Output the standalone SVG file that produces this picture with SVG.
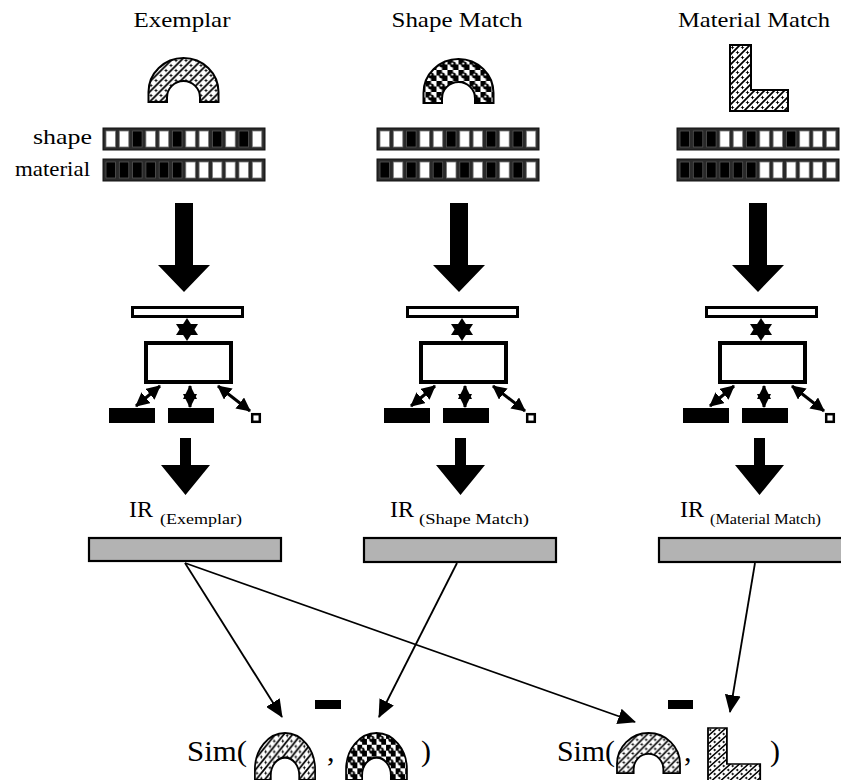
<svg xmlns="http://www.w3.org/2000/svg" xmlns:xlink="http://www.w3.org/1999/xlink" width="841" height="780" viewBox="0 0 841 780">
<style>
.t{font-family:"Liberation Serif","Times New Roman",serif;fill:#000}
.ttl{font-size:22px}
.lbl{font-size:21px}
.ir{font-size:24px}
.sub{font-size:14px}
.sim{font-size:30px}
.obj{stroke:#000;stroke-width:2}
.bar{fill:#2a2a2a;stroke:#111;stroke-width:1}
.w{fill:#fff;stroke:#777;stroke-width:0.8}
.b{fill:#000;stroke:#555;stroke-width:0.8}
.irbar{fill:#b3b3b3;stroke:#000;stroke-width:2.2}
.dbl{stroke:#000;stroke-width:3;marker-start:url(#dh);marker-end:url(#dh)}
.con{stroke:#000;stroke-width:1.8;fill:none;marker-end:url(#tri)}
.blk{fill:#000}
</style>
<defs>
<pattern id="wicker" patternUnits="userSpaceOnUse" width="10" height="10">
<rect width="10" height="10" fill="#fff"/>
<path d="M0,10 L10,0 M-2,2 L2,-2 M8,12 L12,8" stroke="#000" stroke-width="1.8"/>
<path d="M2.5,0.5 L3.2,2 L4.5,2.5 L3.2,3 L2.5,4.5 L1.8,3 L0.5,2.5 L1.8,2 Z" fill="#000"/>
<path d="M7.5,5.5 L8.2,7 L9.5,7.5 L8.2,8 L7.5,9.5 L6.8,8 L5.5,7.5 L6.8,7 Z" fill="#000"/>
</pattern>
<pattern id="checker" patternUnits="userSpaceOnUse" width="11" height="11">
<rect width="11" height="11" fill="#fff"/>
<rect width="5.5" height="5.5" fill="#000"/>
<rect x="5.5" y="5.5" width="5.5" height="5.5" fill="#000"/>
<circle cx="5.5" cy="5.5" r="3" fill="#000"/>
<circle cx="4.8" cy="4.6" r="1.1" fill="#fff"/>
</pattern>
<path id="arch" d="M-35,44 L-35,34 A35,34 0 0 1 35,34 L35,44 L16.5,44 L16.5,39.5 A16.5,16.5 0 0 0 -16.5,39.5 L-16.5,44 Z"/>
<path id="ell" d="M0,0 H21 V45 H58 V66 H0 Z"/>
<marker id="dh" markerUnits="userSpaceOnUse" viewBox="0 0 14 14" markerWidth="14" markerHeight="14" refX="13" refY="7" orient="auto-start-reverse"><path d="M0,0 L14,7 L0,14 Z"/></marker>
<marker id="tri" markerUnits="userSpaceOnUse" viewBox="0 0 18 16" markerWidth="18" markerHeight="16" refX="17" refY="8" orient="auto"><path d="M0,0 L18,8 L0,16 Z"/></marker>
<g id="netIcon">
<rect x="132.5" y="307.5" width="110" height="9" fill="#fff" stroke="#000" stroke-width="3"/>
<polygon points="187,318 198,335 176,335" class="blk"/>
<polygon points="187,341 198,324 176,324" class="blk"/>
<rect x="146" y="343" width="85" height="39" fill="#fff" stroke="#000" stroke-width="4"/>
<rect x="109" y="408" width="46" height="15" class="blk"/>
<rect x="168" y="408" width="46" height="15" class="blk"/>
<rect x="252.2" y="414.2" width="7.6" height="7.6" fill="#fff" stroke="#000" stroke-width="2.5"/>
<line x1="160" y1="386" x2="136" y2="406" class="dbl"/>
<line x1="190" y1="386" x2="190" y2="407" class="dbl"/>
<line x1="218" y1="386" x2="250" y2="411" class="dbl"/>
</g>
</defs>

<!-- Titles -->
<g id="title-exemplar"><text class="t ttl" x="182" y="27" text-anchor="middle" textLength="97" lengthAdjust="spacingAndGlyphs">Exemplar</text></g>
<g id="title-shape-match"><text class="t ttl" x="457" y="27" text-anchor="middle" textLength="131" lengthAdjust="spacingAndGlyphs">Shape Match</text></g>
<g id="title-material-match"><text class="t ttl" x="754" y="27" text-anchor="middle" textLength="152" lengthAdjust="spacingAndGlyphs">Material Match</text></g>

<!-- Objects -->
<g id="obj-exemplar"><use xlink:href="#arch" href="#arch" transform="translate(183.5,58)" fill="url(#wicker)" class="obj"/></g>
<g id="obj-shape-match"><use xlink:href="#arch" href="#arch" transform="translate(458.5,59)" fill="url(#checker)" class="obj"/></g>
<g id="obj-material-match"><use xlink:href="#ell" href="#ell" transform="translate(730,45)" fill="url(#wicker)" class="obj"/></g>

<!-- Row labels -->
<g id="row-labels">
<text class="t lbl" x="92" y="144" text-anchor="end" textLength="59" lengthAdjust="spacingAndGlyphs">shape</text>
<text class="t lbl" x="90" y="176" text-anchor="end" textLength="75" lengthAdjust="spacingAndGlyphs">material</text>
</g>

<!-- Vectors -->
<g id="vec-exemplar">
<g transform="translate(103,128)"><rect class="bar" width="162" height="22"/>
<rect class="w" x="3" y="3" width="9.5" height="16"/><rect class="w" x="16.3" y="3" width="9.5" height="16"/><rect class="b" x="29.6" y="3" width="9.5" height="16"/><rect class="w" x="42.9" y="3" width="9.5" height="16"/><rect class="w" x="56.2" y="3" width="9.5" height="16"/><rect class="b" x="69.5" y="3" width="9.5" height="16"/><rect class="w" x="82.8" y="3" width="9.5" height="16"/><rect class="w" x="96.1" y="3" width="9.5" height="16"/><rect class="b" x="109.4" y="3" width="9.5" height="16"/><rect class="w" x="122.7" y="3" width="9.5" height="16"/><rect class="b" x="136" y="3" width="9.5" height="16"/><rect class="w" x="149.3" y="3" width="9.5" height="16"/></g>
<g transform="translate(103,159)"><rect class="bar" width="162" height="22"/>
<rect class="b" x="3" y="3" width="9.5" height="16"/><rect class="b" x="16.3" y="3" width="9.5" height="16"/><rect class="b" x="29.6" y="3" width="9.5" height="16"/><rect class="b" x="42.9" y="3" width="9.5" height="16"/><rect class="b" x="56.2" y="3" width="9.5" height="16"/><rect class="b" x="69.5" y="3" width="9.5" height="16"/><rect class="w" x="82.8" y="3" width="9.5" height="16"/><rect class="w" x="96.1" y="3" width="9.5" height="16"/><rect class="w" x="109.4" y="3" width="9.5" height="16"/><rect class="w" x="122.7" y="3" width="9.5" height="16"/><rect class="w" x="136" y="3" width="9.5" height="16"/><rect class="w" x="149.3" y="3" width="9.5" height="16"/></g>
</g>
<g id="vec-shape-match">
<g transform="translate(377,128)"><rect class="bar" width="162" height="22"/>
<rect class="w" x="3" y="3" width="9.5" height="16"/><rect class="w" x="16.3" y="3" width="9.5" height="16"/><rect class="b" x="29.6" y="3" width="9.5" height="16"/><rect class="w" x="42.9" y="3" width="9.5" height="16"/><rect class="w" x="56.2" y="3" width="9.5" height="16"/><rect class="b" x="69.5" y="3" width="9.5" height="16"/><rect class="w" x="82.8" y="3" width="9.5" height="16"/><rect class="w" x="96.1" y="3" width="9.5" height="16"/><rect class="b" x="109.4" y="3" width="9.5" height="16"/><rect class="w" x="122.7" y="3" width="9.5" height="16"/><rect class="b" x="136" y="3" width="9.5" height="16"/><rect class="w" x="149.3" y="3" width="9.5" height="16"/></g>
<g transform="translate(377,159)"><rect class="bar" width="162" height="22"/>
<rect class="b" x="3" y="3" width="9.5" height="16"/><rect class="w" x="16.3" y="3" width="9.5" height="16"/><rect class="b" x="29.6" y="3" width="9.5" height="16"/><rect class="w" x="42.9" y="3" width="9.5" height="16"/><rect class="b" x="56.2" y="3" width="9.5" height="16"/><rect class="w" x="69.5" y="3" width="9.5" height="16"/><rect class="b" x="82.8" y="3" width="9.5" height="16"/><rect class="w" x="96.1" y="3" width="9.5" height="16"/><rect class="b" x="109.4" y="3" width="9.5" height="16"/><rect class="w" x="122.7" y="3" width="9.5" height="16"/><rect class="b" x="136" y="3" width="9.5" height="16"/><rect class="w" x="149.3" y="3" width="9.5" height="16"/></g>
</g>
<g id="vec-material-match">
<g transform="translate(677,128)"><rect class="bar" width="162" height="22"/>
<rect class="b" x="3" y="3" width="9.5" height="16"/><rect class="b" x="16.3" y="3" width="9.5" height="16"/><rect class="b" x="29.6" y="3" width="9.5" height="16"/><rect class="w" x="42.9" y="3" width="9.5" height="16"/><rect class="w" x="56.2" y="3" width="9.5" height="16"/><rect class="b" x="69.5" y="3" width="9.5" height="16"/><rect class="w" x="82.8" y="3" width="9.5" height="16"/><rect class="w" x="96.1" y="3" width="9.5" height="16"/><rect class="b" x="109.4" y="3" width="9.5" height="16"/><rect class="w" x="122.7" y="3" width="9.5" height="16"/><rect class="w" x="136" y="3" width="9.5" height="16"/><rect class="w" x="149.3" y="3" width="9.5" height="16"/></g>
<g transform="translate(677,159)"><rect class="bar" width="162" height="22"/>
<rect class="b" x="3" y="3" width="9.5" height="16"/><rect class="b" x="16.3" y="3" width="9.5" height="16"/><rect class="b" x="29.6" y="3" width="9.5" height="16"/><rect class="b" x="42.9" y="3" width="9.5" height="16"/><rect class="b" x="56.2" y="3" width="9.5" height="16"/><rect class="b" x="69.5" y="3" width="9.5" height="16"/><rect class="w" x="82.8" y="3" width="9.5" height="16"/><rect class="w" x="96.1" y="3" width="9.5" height="16"/><rect class="w" x="109.4" y="3" width="9.5" height="16"/><rect class="w" x="122.7" y="3" width="9.5" height="16"/><rect class="w" x="136" y="3" width="9.5" height="16"/><rect class="w" x="149.3" y="3" width="9.5" height="16"/></g>
</g>

<!-- Networks -->
<g id="net-exemplar"><use xlink:href="#netIcon" href="#netIcon"/></g>
<g id="net-shape-match"><use xlink:href="#netIcon" href="#netIcon" transform="translate(275,0)"/></g>
<g id="net-material-match"><use xlink:href="#netIcon" href="#netIcon" transform="translate(574,0)"/></g>

<!-- IR labels and bars -->
<g id="ir-exemplar">
<text class="t ir" x="129" y="517">IR</text>
<text class="t sub" x="160" y="524" textLength="82" lengthAdjust="spacingAndGlyphs">(Exemplar)</text>
<rect class="irbar" x="89" y="538" width="192" height="23"/>
</g>
<g id="ir-shape-match">
<text class="t ir" x="390" y="517">IR</text>
<text class="t sub" x="419" y="524" textLength="110" lengthAdjust="spacingAndGlyphs">(Shape Match)</text>
<rect class="irbar" x="364" y="538" width="192" height="24"/>
</g>
<g id="ir-material-match">
<text class="t ir" x="680" y="517">IR</text>
<text class="t sub" x="710" y="524" textLength="111" lengthAdjust="spacingAndGlyphs">(Material Match)</text>
<rect class="irbar" x="659" y="538" width="190" height="24"/>
</g>

<!-- Similarity expressions -->
<g id="sim-shape">
<text class="t sim" x="187" y="761" textLength="60" lengthAdjust="spacingAndGlyphs">Sim(</text>
<use xlink:href="#arch" href="#arch" transform="translate(285,733) scale(0.86,1.07)" fill="url(#wicker)" class="obj"/>
<text class="t sim" x="327" y="761">,</text>
<use xlink:href="#arch" href="#arch" transform="translate(376.5,733) scale(0.87,1.07)" fill="url(#checker)" class="obj"/>
<text class="t sim" x="421" y="761">)</text>
</g>
<g id="minus-shape"><rect x="315" y="700" width="26" height="9" class="blk"/></g>
<g id="sim-material">
<text class="t sim" x="557" y="761" textLength="58" lengthAdjust="spacingAndGlyphs">Sim(</text>
<use xlink:href="#arch" href="#arch" transform="translate(648.5,733) scale(0.9,0.91)" fill="url(#wicker)" class="obj"/>
<text class="t sim" x="684" y="761">,</text>
<use xlink:href="#ell" href="#ell" transform="translate(708,728) scale(0.9,0.8)" fill="url(#wicker)" class="obj"/>
<text class="t sim" x="770" y="761">)</text>
</g>
<g id="minus-material"><rect x="668" y="700" width="25" height="9" class="blk"/></g>

<!-- Connectors -->
<g id="connectors">
<polygon class="blk" points="175,203 193,203 193,265 210,265 184,292 158,265 175,265"/>
<polygon class="blk" points="450,203 468,203 468,265 485,265 459,292 433,265 450,265"/>
<polygon class="blk" points="749,203 767,203 767,265 784,265 758,292 732,265 749,265"/>
<polygon class="blk" points="180,438 191,438 191,465 210,465 185.5,495 161,465 180,465"/>
<polygon class="blk" points="455,438 466,438 466,465 485,465 460.5,495 436,465 455,465"/>
<polygon class="blk" points="754,438 765,438 765,465 784,465 759.5,495 735,465 754,465"/>
<line class="con" x1="185" y1="563" x2="282" y2="717"/>
<line class="con" x1="457" y1="563" x2="379" y2="717"/>
<line class="con" x1="185" y1="563" x2="635" y2="722"/>
<line class="con" x1="755" y1="563" x2="730" y2="712"/>
</g>
</svg>
